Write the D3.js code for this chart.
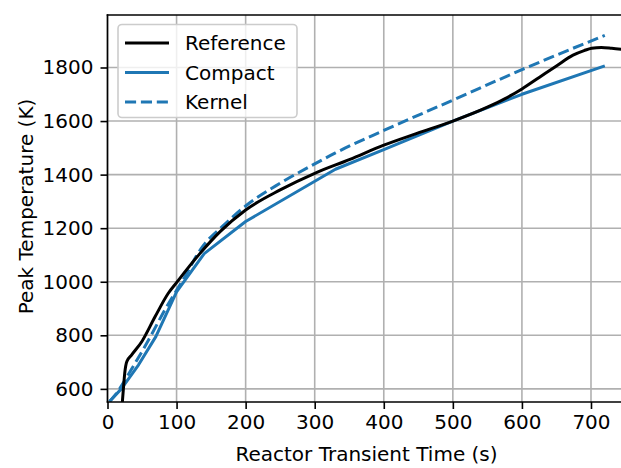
<!DOCTYPE html>
<html>
<head>
<meta charset="utf-8">
<script src="https://cdn.jsdelivr.net/npm/d3@7/dist/d3.min.js"></script>
<style>
  html, body { margin: 0; padding: 0; background: #fff; }
  svg { display: block; }
  text { font-family: "DejaVu Sans", sans-serif; }
</style>
</head>
<body>
<svg id="chart" width="621" height="468"></svg>
<script>
// ---- data ----
const referenceT = [21.5, 23, 25, 28, 35, 50, 69, 88, 100, 134, 163, 200, 250, 300, 351, 400, 448, 500, 550, 575, 600, 625, 650, 674, 690, 701, 715, 730, 750];
const referenceK = [551, 600, 660, 702, 727, 778, 870, 957, 997, 1106, 1187, 1268, 1343, 1405, 1457, 1510, 1554, 1600, 1652, 1683, 1720, 1763, 1806, 1846, 1863, 1872, 1875, 1872, 1866];

const compactT = [3, 20, 45, 70, 100, 140, 200, 330, 400, 500, 600, 720];
const compactK = [553, 600, 690, 795, 962, 1105, 1225, 1420, 1493, 1600, 1700, 1806];

const kernelT = [3, 10, 40, 60, 83, 112, 135, 170, 200, 250, 300, 330, 400, 500, 600, 720];
const kernelK = [553, 574, 696, 785, 895, 1019, 1122, 1215, 1283, 1368, 1440, 1481, 1565, 1678, 1792, 1920];

const xTicks = [0, 100, 200, 300, 400, 500, 600, 700];
const yTicks = [600, 800, 1000, 1200, 1400, 1600, 1800];

const seriesNames = ["Reference", "Compact", "Kernel"];
const xLabel = "Reactor Transient Time (s)";
const yLabel = "Peak Temperature (K)";

(function () {
// ---- layout ----
const svg = d3.select("#chart");
const mLeft = 107.5, mTop = 15, mBottom = 402;
const x = d3.scaleLinear().domain([0, 750]).range([mLeft, mLeft + 750 * 0.6907]);
const y = d3.scaleLinear().domain([551, 1996]).range([mBottom, mTop]);
const mRight = x(750);

const fontSize = 20;
const blue = "#1f77b4";

svg.append("defs").append("clipPath").attr("id", "plotclip")
  .append("rect").attr("x", mLeft).attr("y", mTop).attr("width", mRight - mLeft).attr("height", mBottom - mTop);

// grid
const grid = svg.append("g");
grid.selectAll("line.vx").data(xTicks).join("line")
  .attr("x1", d => x(d)).attr("x2", d => x(d))
  .attr("y1", mTop).attr("y2", mBottom)
  .attr("stroke", "#b0b0b0").attr("stroke-width", 1.6);
grid.selectAll("line.hy").data(yTicks).join("line")
  .attr("x1", mLeft).attr("x2", mRight)
  .attr("y1", d => y(d)).attr("y2", d => y(d))
  .attr("stroke", "#b0b0b0").attr("stroke-width", 1.6);

// lines
const plot = svg.append("g").attr("clip-path", "url(#plotclip)");
const refData = referenceT.map((t, i) => [t, referenceK[i]]);
const compData = compactT.map((t, i) => [t, compactK[i]]);
const kernData = kernelT.map((t, i) => [t, kernelK[i]]);

const smooth = d3.line().x(d => x(d[0])).y(d => y(d[1])).curve(d3.curveMonotoneX);
const straight = d3.line().x(d => x(d[0])).y(d => y(d[1]));

plot.append("path").datum(compData).attr("d", straight)
  .attr("fill", "none").attr("stroke", blue).attr("stroke-width", 3).attr("stroke-linejoin", "round");
plot.append("path").datum(kernData).attr("d", smooth)
  .attr("fill", "none").attr("stroke", blue).attr("stroke-width", 3)
  .attr("stroke-dasharray", "11.1,4.8");
plot.append("path").datum(refData).attr("d", smooth)
  .attr("fill", "none").attr("stroke", "#000").attr("stroke-width", 3).attr("stroke-linejoin", "round");

// axes
const xAxis = svg.append("g").attr("transform", `translate(0,${mBottom})`)
  .call(d3.axisBottom(x).tickValues(xTicks).tickFormat(d3.format("d")).tickSize(7).tickPadding(6).tickSizeOuter(0));
const yAxis = svg.append("g").attr("transform", `translate(${mLeft},0)`)
  .call(d3.axisLeft(y).tickValues(yTicks).tickFormat(d3.format("d")).tickSize(7).tickPadding(7).tickSizeOuter(0));
[xAxis, yAxis].forEach(g => {
  g.selectAll("text").attr("font-size", fontSize).attr("font-family", "DejaVu Sans").attr("fill", "#000");
  g.selectAll(".tick line").attr("stroke", "#000").attr("stroke-width", 1.6);
  g.select(".domain").remove();
});

// spines
svg.append("line").attr("x1", mLeft).attr("x2", mLeft).attr("y1", mTop).attr("y2", mBottom)
  .attr("stroke", "#000").attr("stroke-width", 1.6).attr("stroke-linecap", "square");
svg.append("line").attr("x1", mLeft).attr("x2", mRight).attr("y1", mBottom).attr("y2", mBottom)
  .attr("stroke", "#000").attr("stroke-width", 1.6).attr("stroke-linecap", "square");
svg.append("line").attr("x1", mLeft).attr("x2", mRight).attr("y1", mTop).attr("y2", mTop)
  .attr("stroke", "#000").attr("stroke-width", 1.6).attr("stroke-linecap", "square");

// axis labels
svg.append("text").attr("x", (mLeft + mRight) / 2).attr("y", 461)
  .attr("text-anchor", "middle").attr("font-size", fontSize).text(xLabel);
svg.append("text").attr("transform", `translate(26,${(mTop + mBottom) / 2 - 2}) rotate(-90)`)
  .attr("text-anchor", "middle").attr("dominant-baseline", "central").attr("font-size", fontSize).text(yLabel);

// legend
const lg = svg.append("g");
lg.append("rect").attr("x", 118).attr("y", 24.5).attr("width", 179).attr("height", 93)
  .attr("rx", 4).attr("fill", "#fff").attr("fill-opacity", 0.8)
  .attr("stroke", "#cccccc").attr("stroke-width", 1.6);
const styles = [
  { color: "#000", dash: null },
  { color: blue, dash: null },
  { color: blue, dash: "11.1,4.8" }
];
seriesNames.forEach((name, i) => {
  const cy = 43 + i * 29.5;
  const l = lg.append("line").attr("x1", 125).attr("x2", 169).attr("y1", cy).attr("y2", cy)
    .attr("stroke", styles[i].color).attr("stroke-width", 3);
  if (styles[i].dash) l.attr("stroke-dasharray", styles[i].dash);
  lg.append("text").attr("x", 185).attr("y", cy).attr("dominant-baseline", "central")
    .attr("font-size", fontSize).text(name);
});
})();
</script>
</body>
</html>
